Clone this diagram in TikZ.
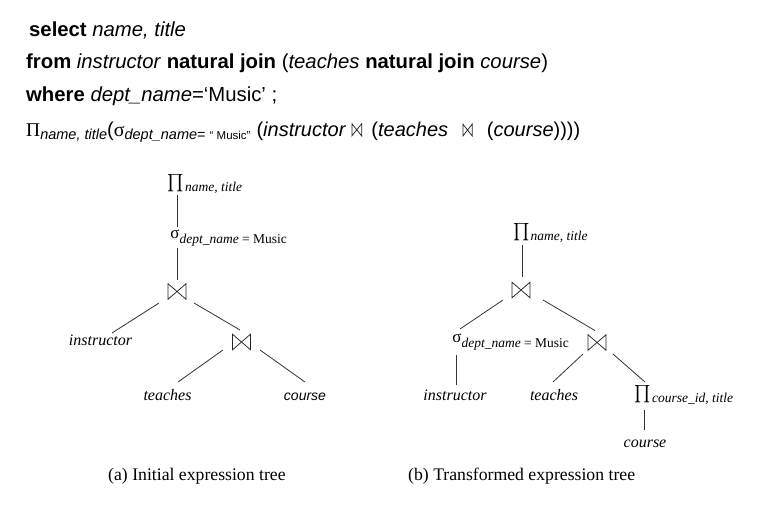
\documentclass[tikz,border=0pt]{standalone}
\usepackage{exscale}
\usepackage{fontspec}
\setmainfont{Liberation Serif}
\newfontfamily\hd{Liberation Sans}
\newcommand\bigprod{{\fontsize{17}{17}\selectfont$\textstyle\prod$}}
\newcommand\subs[2]{\rlap{\raisebox{#1}{\fontsize{13.5}{14}\selectfont #2}}}
\newcommand\hsub[2]{\raisebox{#1}{\fontsize{14.5}{14.5}\selectfont #2}}
\tikzset{
  hdr/.style={anchor=base west, inner sep=0pt, font=\hd\fontsize{20.3}{24}\selectfont},
  treenode/.style={inner sep=0pt, font=\fontsize{16}{18}\selectfont\itshape},
  txt/.style={treenode, anchor=base},
  captxt/.style={anchor=base west, inner sep=0pt, font=\fontsize{17.7}{20}\selectfont},
  conn/.style={draw=black!80, line width=0.8pt},
  bow/.style 2 args={inner sep=0pt, minimum width=#1, minimum height=#2,
    path picture={\draw[line width=0.75pt, black!85]
      ([shift={(0.4pt,0.4pt)}]path picture bounding box.south west) --
      ([shift={(0.4pt,-0.4pt)}]path picture bounding box.north west) --
      ([shift={(-0.4pt,0.4pt)}]path picture bounding box.south east) --
      ([shift={(-0.4pt,-0.4pt)}]path picture bounding box.north east) -- cycle;}}
}
\begin{document}
\begin{tikzpicture}[x=1pt,y=-1pt]
\useasboundingbox[fill=white] (0,0) rectangle (758,517);

% header
\node[hdr] (l1) at (29,36) {\textbf{select} \textit{name, title}};
\node[hdr] (l2) at (26,68) {\textbf{from} \textit{instructor} \textbf{natural join} (\textit{teaches} \textbf{natural join} \textit{course})};
\node[hdr] (l3) at (26,101) {\textbf{where} \textit{dept\_name}=‘Music’ ;};
\node[hdr, font=\hd\fontsize{20}{24}\selectfont] (l4a) at (26,136) {{\rmfamily\fontsize{19.5}{20}\selectfont Π}\hsub{-3.5pt}{\itshape name, title}({\rmfamily\fontsize{20}{20}\selectfont σ}\hsub{-3.5pt}{\itshape dept\_name\upshape= {\fontsize{11.5}{11.5}\selectfont“ Music”}}\kern6pt(\textit{instructor}};
\node[bow={10.5pt}{13pt}, anchor=south west] (hb1) at ([xshift=5pt,yshift=-0.5pt]l4a.base east) {};
\node[hdr, font=\hd\fontsize{20}{24}\selectfont] (l4b) at ([xshift=9pt,yshift=0.5pt]hb1.south east) {(\textit{teaches}};
\node[bow={10pt}{12.5pt}, anchor=south west] (hb2) at ([xshift=14pt,yshift=-0.5pt]l4b.base east) {};
\node[hdr, font=\hd\fontsize{20}{24}\selectfont] (l4c) at ([xshift=14pt,yshift=0.5pt]hb2.south east) {(\textit{course}))))};

% tree (a)
\node[treenode, font=\fontsize{16}{18}\selectfont] (pa) at (176,184) {\bigprod\subs{-4pt}{\kern1pt\itshape name, title}};
\node[treenode, font=\fontsize{17}{17}\selectfont] (sa) at (175,238) {σ\subs{-5.5pt}{\itshape dept\_name \upshape= Music}};
\node[bow={19pt}{16.5pt}] (ja) at (177,291.5) {};
\node[bow={19pt}{16.5pt}] (jb) at (241.5,342) {};
\node[txt] (insa) at (100.5,345) {instructor};
\node[txt] (tea) at (167.5,400) {teaches};
\node[txt, font=\hd\fontsize{14}{16}\selectfont\itshape] (coua) at (305,400) {course};

\draw[conn] ([shift={(1,11)}]pa.center) -- ([shift={(2,-11)}]sa.center);
\draw[conn] ([shift={(2,10)}]sa.center) -- ([shift={(0,-11.5)}]ja.center);
\draw[conn] ([shift={(-18,11.5)}]ja.center) -- ([shift={(11.5,-12)}]insa.base);
\draw[conn] ([shift={(17,11.5)}]ja.center) -- ([shift={(-1.5,-12)}]jb.center);
\draw[conn] ([shift={(-18.5,8)}]jb.center) -- ([shift={(10.5,-18)}]tea.base);
\draw[conn] ([shift={(18.5,8)}]jb.center) -- ([shift={(0,-18)}]coua.base);

% tree (b)
\node[treenode, font=\fontsize{16}{18}\selectfont] (pb) at (521.5,233.5) {\bigprod\subs{-4pt}{\kern1pt\itshape name, title}};
\node[bow={19pt}{16.5pt}] (jc) at (521,290) {};
\node[treenode, font=\fontsize{17}{17}\selectfont] (sb) at (457,342) {σ\subs{-5.5pt}{\itshape dept\_name \upshape= Music}};
\node[bow={19pt}{16.5pt}] (jd) at (597,342.5) {};
\node[txt] (insb) at (455,400) {instructor};
\node[txt] (teb) at (554,400) {teaches};
\node[treenode, font=\fontsize{16}{18}\selectfont] (pc) at (643,395) {\bigprod\subs{-4pt}{\kern1pt\itshape course\_id, title}};
\node[txt] (coub) at (645,447) {course};

\draw[conn] ([shift={(0.5,11.5)}]pb.center) -- ([shift={(1,-13)}]jc.center);
\draw[conn] ([shift={(-18,10)}]jc.center) -- ([shift={(3,-13)}]sb.center);
\draw[conn] ([shift={(22,10)}]jc.center) -- ([shift={(-2,-12)}]jd.center);
\draw[conn] ([shift={(-1,13)}]sb.center) -- ([shift={(1,-15)}]insb.base);
\draw[conn] ([shift={(-14,11.5)}]jd.center) -- ([shift={(-1,-18)}]teb.base);
\draw[conn] ([shift={(16,11.5)}]jd.center) -- ([shift={(2,-13)}]pc.center);
\draw[conn] ([shift={(1,15)}]pc.center) -- ([shift={(-1,-17)}]coub.base);

% captions
\node[captxt] (capa) at (108,480) {(a) Initial expression tree};
\node[captxt] (capb) at (408,480) {(b) Transformed expression tree};
\end{tikzpicture}
\end{document}
